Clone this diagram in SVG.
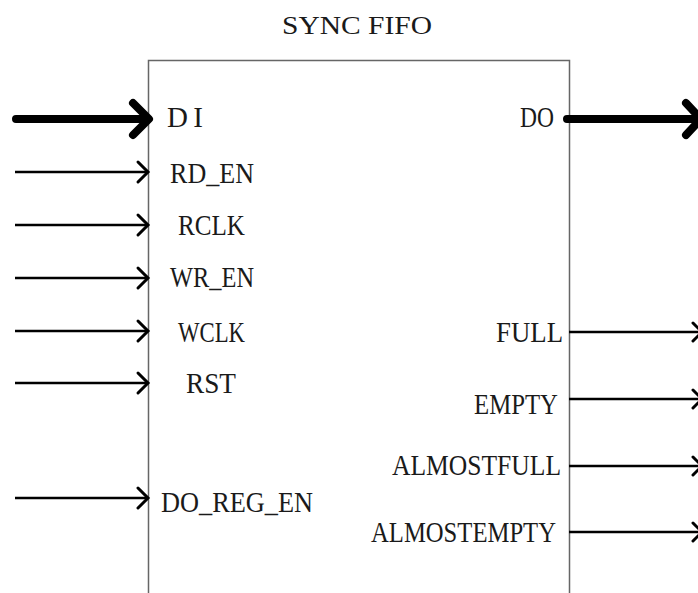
<svg xmlns="http://www.w3.org/2000/svg" width="698" height="593" viewBox="0 0 698 593">
<style>
text{font-family:"Liberation Serif","Times New Roman",serif;font-size:29px;fill:#1a1a1a}
.title{font-size:26px}
.thin{stroke:#000;stroke-width:2.4;fill:none}
.thick{stroke:#000;stroke-width:8;fill:none;stroke-linecap:round;stroke-linejoin:round}
.head{stroke:#000;stroke-width:3;fill:none;stroke-linecap:round;stroke-linejoin:miter}
</style>
<rect width="698" height="593" fill="#fff"/>
<g id="title"><text class="title" x="282" y="34" textLength="150" lengthAdjust="spacingAndGlyphs">SYNC FIFO</text></g>
<g id="fifo">
<path d="M148.5 600 V60.5 H569.5 V600" fill="none" stroke="#666" stroke-width="1.5"/>
<text x="167" y="127" textLength="36" lengthAdjust="spacing">DI</text>
<text x="170" y="183" textLength="84" lengthAdjust="spacingAndGlyphs">RD_EN</text>
<text x="178" y="235" textLength="67" lengthAdjust="spacingAndGlyphs">RCLK</text>
<text x="170" y="287" textLength="84" lengthAdjust="spacingAndGlyphs">WR_EN</text>
<text x="178" y="342" textLength="67" lengthAdjust="spacingAndGlyphs">WCLK</text>
<text x="186" y="393" textLength="50" lengthAdjust="spacingAndGlyphs">RST</text>
<text x="161" y="512" textLength="152" lengthAdjust="spacingAndGlyphs">DO_REG_EN</text>
<text x="520" y="127" textLength="34" lengthAdjust="spacingAndGlyphs">DO</text>
<text x="496" y="342" textLength="67" lengthAdjust="spacingAndGlyphs">FULL</text>
<text x="474" y="414" textLength="84" lengthAdjust="spacingAndGlyphs">EMPTY</text>
<text x="392" y="475" textLength="169" lengthAdjust="spacingAndGlyphs">ALMOSTFULL</text>
<text x="371" y="542" textLength="185" lengthAdjust="spacingAndGlyphs">ALMOSTEMPTY</text>
</g>
<g id="connectors">
<path class="thick" d="M16 119 H148 M133 103 L149 119 L133 135"/>
<path class="thick" d="M567 119 H698 M686 103 L701 119 L686 135"/>
<path class="thin" d="M15 172 H148"/><path class="head" d="M138 162 L148 172 L138 182"/>
<path class="thin" d="M15 225 H148"/><path class="head" d="M138 215 L148 225 L138 235"/>
<path class="thin" d="M15 278 H148"/><path class="head" d="M138 268 L148 278 L138 288"/>
<path class="thin" d="M15 331 H148"/><path class="head" d="M138 321 L148 331 L138 341"/>
<path class="thin" d="M15 383 H148"/><path class="head" d="M138 373 L148 383 L138 393"/>
<path class="thin" d="M15 498 H148"/><path class="head" d="M138 488 L148 498 L138 508"/>
<path class="thin" d="M569 332 H698"/><path class="head" d="M693 323 L702 332 L693 341"/>
<path class="thin" d="M569 399 H698"/><path class="head" d="M693 390 L702 399 L693 408"/>
<path class="thin" d="M569 466 H698"/><path class="head" d="M693 457 L702 466 L693 475"/>
<path class="thin" d="M569 532 H698"/><path class="head" d="M693 523 L702 532 L693 541"/>
</g>
</svg>
